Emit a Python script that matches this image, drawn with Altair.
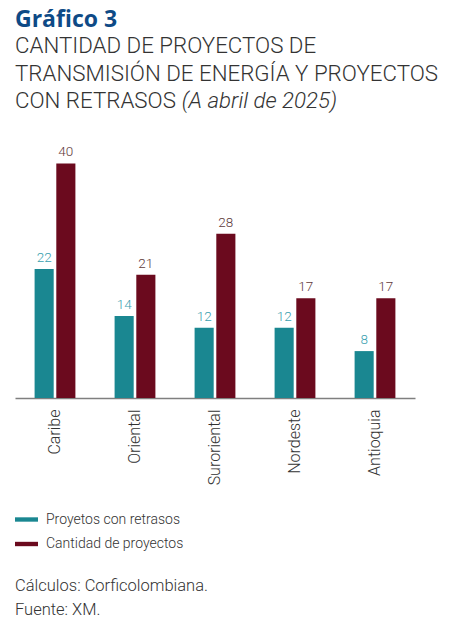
import altair as alt
import pandas as pd

regions = ["Caribe", "Oriental", "Suroriental", "Nordeste", "Antioquia"]
series_names = ["Proyetos con retrasos", "Cantidad de proyectos"]
retrasos = [22, 14, 12, 12, 8]
cantidad = [40, 21, 28, 17, 17]

title_main = "Gráfico 3"
sub_lines = ["CANTIDAD DE PROYECTOS DE", "TRANSMISIÓN DE ENERGÍA Y PROYECTOS", "CON RETRASOS"]
sub_italic = "(A abril de 2025)"
footer_lines = ["Cálculos: Corficolombiana.", "Fuente: XM."]

TEAL = "#1A8791"
MAROON = "#6B0A1E"
TEAL_LBL = "#3A9FB0"
MAROON_LBL = "#5E3A3A"
GREY = "#333333"
FONT = "Roboto"

rows = []
for r, a, b in zip(regions, retrasos, cantidad):
    rows.append({"region": r, "serie": series_names[0], "valor": a})
    rows.append({"region": r, "serie": series_names[1], "valor": b})
df = pd.DataFrame(rows)

xs = alt.X("region:N", sort=regions, title=None,
           scale=alt.Scale(paddingInner=0.49, paddingOuter=0.245),
           axis=alt.Axis(labelAngle=270, ticks=False, labelPadding=11,
                         labelFontSize=16, labelColor=GREY, labelFont=FONT,
                         domainColor="#7F7F7F", domainWidth=1.5, labelFontWeight=300))
xo = alt.XOffset("serie:N", sort=series_names, scale=alt.Scale(paddingInner=0.12, paddingOuter=0))
ys = alt.Y("valor:Q", scale=alt.Scale(domain=[0, 44]), axis=None)

bars = alt.Chart(df).mark_bar().encode(
    x=xs, xOffset=xo, y=ys,
    color=alt.Color("serie:N", sort=series_names,
                    scale=alt.Scale(domain=series_names, range=[TEAL, MAROON]),
                    legend=alt.Legend(title=None, orient="none", legendX=0, legendY=368,
                                      padding=0, symbolType="M-1,-0.19H1V0.19H-1Z",
                                      symbolSize=529, symbolStrokeWidth=0,
                                      labelFontSize=14, labelColor=GREY, labelFont=FONT,
                                      labelOffset=8, rowPadding=5.5, labelFontWeight=300))
)

labels = alt.Chart(df).mark_text(baseline="alphabetic", dy=-7, fontSize=13.5, font=FONT, fontWeight=300).encode(
    x=xs, xOffset=xo, y=ys,
    text="valor:Q",
    color=alt.Color("serie:N", sort=series_names,
                    scale=alt.Scale(domain=series_names, range=[TEAL_LBL, MAROON_LBL]),
                    legend=None)
)


def txt(s, x, y, size, color=GREY, weight=300, style="normal", font=FONT):
    return alt.Chart(pd.DataFrame({"t": [s]})).mark_text(
        align="left", baseline="alphabetic", fontSize=size, font=font,
        fontWeight=weight, fontStyle=style, color=color
    ).encode(text="t:N", x=alt.value(x), y=alt.value(y))


header = [
    txt(title_main, 0, -113.5, 23, color="#0E4A86", weight=700, font="Open Sans"),
    txt(sub_lines[0], 0, -86.7, 22.3),
    txt(sub_lines[1], 0, -59, 22.3),
    txt(sub_lines[2], 0, -31.7, 22.3),
    txt(sub_italic, 166.7, -31.7, 22.3, style="italic"),
    txt(footer_lines[0], 0, 451, 16.5),
    txt(footer_lines[1], 0, 475, 16.5),
]

chart = alt.layer(bars, labels, *header).resolve_scale(color="independent").properties(
    width=400, height=258,
    background="white",
    autosize=alt.AutoSizeParams(type="none"),
    padding={"left": 7, "top": 132, "right": 30, "bottom": 235},
).configure_view(strokeWidth=0, stroke="transparent")

chart.save("out.html", embed_options={"renderer": "svg", "actions": False})
